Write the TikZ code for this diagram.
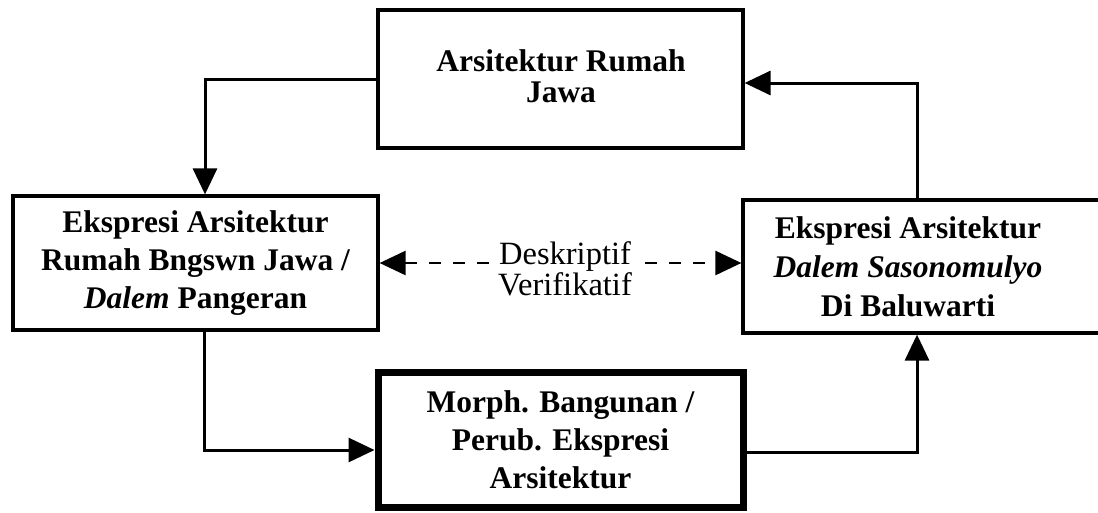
\documentclass[tikz,border=0pt]{standalone}
\usepackage{fontspec}
\setmainfont{Liberation Serif}
\usetikzlibrary{arrows.meta}
\begin{document}
\begin{tikzpicture}[x=1pt,y=-1pt,
  box/.style={draw, line width=3.2pt, minimum width=365pt, inner sep=0pt, align=center,
    font=\bfseries\fontsize{31.5}{38}\selectfont},
  boldtxt/.style={inner sep=0pt, align=center, font=\bfseries\fontsize{31.5}{39}\selectfont},
  conn/.style={line width=3pt, -{Triangle[length=26pt,width=24pt]}},
  dconn/.style={line width=2.6pt, dash pattern=on 12pt off 12pt,
    {Triangle[length=26pt,width=24pt]}-{Triangle[length=26pt,width=24pt]}},
  lab/.style={fill=white, inner sep=1pt, align=center, font=\fontsize{32.5}{31}\selectfont}]
\useasboundingbox (0,0) rectangle (1098,512);

\node[box, minimum height=138pt] (top) at (560.5,79) {};
\node[boldtxt, font=\bfseries\fontsize{31.5}{31}\selectfont] (toptext) at (561,76) {Arsitektur Rumah\\Jawa};
\node[box, minimum height=134pt] (left) at (195.5,263) {Ekspresi Arsitektur\\Rumah Bngswn Jawa /\\\textit{Dalem} Pangeran};
\node[box, minimum height=133pt] (right) at (925.5,266.5) {};
\node[boldtxt] (righttext) at (908,267) {Ekspresi Arsitektur\\\textit{Dalem Sasonomulyo}\\Di Baluwarti};
\node[box, line width=7pt, minimum height=135pt] (bottom) at (560.5,440) {Morph. Bangunan /\\Perub. Ekspresi\\Arsitektur};

\draw[conn] (top.west) -| ([xshift=9.5pt]left.north);
\draw[conn] ([xshift=9pt]left.south) |- ([yshift=-10pt]bottom.west);
\draw[conn] ([yshift=-12pt]bottom.east) -| ([xshift=-8.5pt]right.south);
\draw[conn] ([xshift=-8.5pt]right.north) |- ([yshift=-4pt]top.east);

\draw[dconn] (left.east) -- (left.east -| right.west);
\node[lab] (desc) at (565,269) {Deskriptif\\Verifikatif};
\end{tikzpicture}
\end{document}
